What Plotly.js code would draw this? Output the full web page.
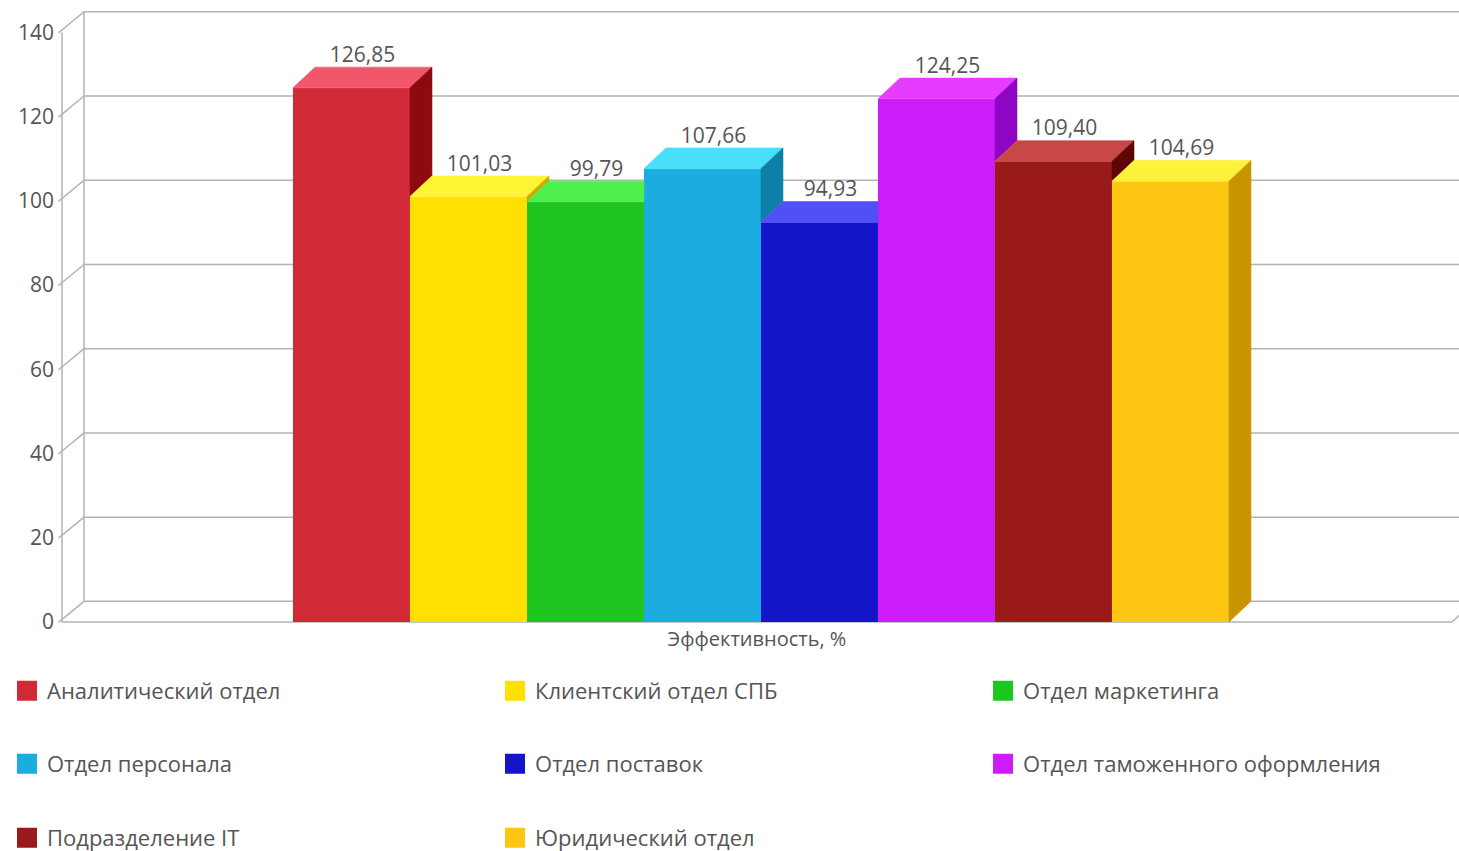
<!DOCTYPE html>
<html>
<head>
<meta charset="utf-8">
<script src="https://cdn.plot.ly/plotly-3.0.1.min.js"></script>
<style>html,body{margin:0;padding:0;background:#fff;}#chart{width:1459px;height:851px;}</style>
</head>
<body>
<div id="chart"></div>
<script>
// ---- data ----
const categories = [
  'Аналитический отдел',
  'Клиентский отдел СПБ',
  'Отдел маркетинга',
  'Отдел персонала',
  'Отдел поставок',
  'Отдел таможенного оформления',
  'Подразделение IT',
  'Юридический отдел'
];
const values = [126.85, 101.03, 99.79, 107.66, 94.93, 124.25, 109.40, 104.69];
const axisCategory = 'Эффективность, %';
const yTicks = [0, 20, 40, 60, 80, 100, 120, 140];

// ---- styles ----
const frontColors = ['#D02A36', '#FFE000', '#1FC61F', '#1BADE0', '#1414C8', '#CC1CFA', '#9A1A1A', '#FDC613'];
const topColors   = ['#F2566A', '#FFF535', '#4EF04E', '#48DFFA', '#5050F5', '#E63CFF', '#C84848', '#FFF03A'];
const sideColors  = ['#8E0A0F', '#C9AE00', '#139613', '#0E7FA6', '#0A0A8E', '#8E06C4', '#5E0505', '#C89500'];

const TEXT = '#555555';
const FONT = '"Open Sans", "Noto Sans", sans-serif';
const X_RANGE = [-2.534, 9.466];
const Y_RANGE = [-0.71, 145.8];
const FRONT_LEFT = -2.474, FRONT_RIGHT = 9.406;
const DX = 0.188, DY = 4.9;   // depth offset in data units
const LEG_X = [-0.0342, 0.3134, 0.6610];
const LEG_Y = [-0.107, -0.2253, -0.345];

const fmt = v => v.toFixed(2).replace('.', ',');

const traces = [];
// front faces (bars)
values.forEach((v, i) => {
  traces.push({
    type: 'bar', x: [i], y: [v], width: 1, name: categories[i],
    marker: {color: frontColors[i], line: {width: 0}},
    showlegend: false, legendgroup: 'g' + i, hoverinfo: 'name+y'
  });
});
// top and side faces
values.forEach((v, i) => {
  const n = i < values.length - 1 ? values[i + 1] : 0;
  const nn = Math.min(Math.max(n, v), v + DY);
  const s = (v + DY - nn) / DY;
  traces.push({
    type: 'scatter', mode: 'lines', fill: 'toself', fillcolor: topColors[i],
    x: [i - 0.5, i + 0.5, i + 0.5, i + 0.5 + s * DX, i - 0.5 + DX, i - 0.5],
    y: [v, v, nn, v + DY, v + DY, v],
    line: {width: 0.6, color: topColors[i]}, showlegend: false, hoverinfo: 'skip', legendgroup: 'g' + i
  });
  if (v > n) {
    const lo = Math.max(n, 0);
    traces.push({
      type: 'scatter', mode: 'lines', fill: 'toself', fillcolor: sideColors[i],
      x: [i + 0.5, i + 0.5, i + 0.5 + DX, i + 0.5 + DX, i + 0.5],
      y: [lo, v, v + DY, lo + DY, lo],
      line: {width: 0.6, color: sideColors[i]}, showlegend: false, hoverinfo: 'skip', legendgroup: 'g' + i
    });
  }
});
// value labels
traces.push({
  type: 'scatter', mode: 'text',
  x: values.map((v, i) => i + DX / 2), y: values.map(v => v + DY),
  text: values.map(fmt), textposition: 'top center',
  textfont: {family: FONT, size: 21, color: TEXT},
  showlegend: false, hoverinfo: 'skip'
});
// layout
const layout = {
  width: 1459, height: 851,
  margin: {l: 55, r: 0, t: 8, b: 226, autoexpand: false},
  paper_bgcolor: '#fff', plot_bgcolor: '#fff',
  barmode: 'overlay',
  font: {family: FONT, color: TEXT},
  xaxis: {
    range: X_RANGE, showgrid: false, zeroline: false, showline: false,
    tickvals: [(FRONT_LEFT + FRONT_RIGHT) / 2], ticktext: [axisCategory],
    ticks: '', tickfont: {family: FONT, size: 20, color: TEXT}, fixedrange: true
  },
  yaxis: {
    range: Y_RANGE, showgrid: false, zeroline: false, showline: false,
    tickvals: yTicks, ticktext: yTicks.map(String), ticks: '',
    tickfont: {family: FONT, size: 21, color: TEXT}, fixedrange: true
  },
  shapes: []
};
// legend entries (one legend box per entry, laid out in a 3-column grid)
categories.forEach((c, i) => {
  const key = i === 0 ? 'legend' : 'legend' + (i + 1);
  traces.push({
    type: 'scatter', mode: 'markers', x: [null], y: [null], name: c,
    marker: {symbol: 'square', size: 16, color: frontColors[i], line: {color: frontColors[i], width: 4}},
    legend: key, legendgroup: 'g' + i, hoverinfo: 'skip'
  });
  layout[key] = {
    x: LEG_X[i % 3], y: LEG_Y[Math.floor(i / 3)], xanchor: 'left', yanchor: 'middle',
    bgcolor: 'rgba(0,0,0,0)', borderwidth: 0,
    font: {family: FONT, size: 22, color: TEXT}
  };
});
// 3D frame: back wall gridlines, slanted ticks, floor
const GRID = {color: '#b3b3b3', width: 1.5};
const line = (x0, y0, x1, y1) => ({type: 'line', xref: 'x', yref: 'y', x0, y0, x1, y1, line: GRID, layer: 'below'});
yTicks.forEach(t => {
  layout.shapes.push(line(FRONT_LEFT + DX, t + DY, FRONT_RIGHT + DX, t + DY));
  layout.shapes.push(line(FRONT_LEFT - 0.03, t - 0.1, FRONT_LEFT + DX, t + DY));
});
layout.shapes.push(line(FRONT_LEFT, 0, FRONT_LEFT, yTicks[yTicks.length - 1]));
layout.shapes.push(line(FRONT_LEFT + DX, DY, FRONT_LEFT + DX, yTicks[yTicks.length - 1] + DY));
layout.shapes.push(line(FRONT_LEFT, 0, FRONT_RIGHT, 0));
layout.shapes.push(line(FRONT_RIGHT, 0, FRONT_RIGHT + DX, DY));

Plotly.newPlot('chart', traces, layout, {displayModeBar: false, staticPlot: true});
</script>
</body>
</html>
